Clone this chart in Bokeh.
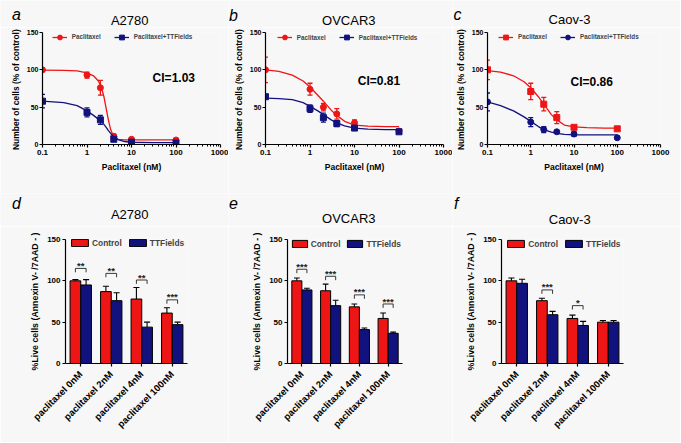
import math
from bokeh.plotting import figure
from bokeh.models import (Range1d, FactorRange, FixedTicker, CustomJSTickFormatter, Label,
                          Legend, LegendItem, ColumnDataSource, Whisker, TeeHead)
from bokeh.layouts import row, column
from bokeh.transform import dodge
from bokeh.core.properties import value
from bokeh.embed import file_html
from bokeh.resources import INLINE

FONT = "Liberation Sans"
RED = "#ee1515"
NAVY = "#12127e"
BG = "#f7f7f7"

# ---------------- dose-response data (top row) ----------------
doses = [0.1, 1, 2, 4, 10, 100]
x_ticks = [0.1, 1, 10, 100, 1000]
y_ticks = [0, 50, 100, 150]

a_ptx = [100, 93, 76, 11, 7, 6]
a_ptx_err = [1.5, 4, 10, 3, 2, 1.5]
a_tt = [58, 43, 33, 7, 3, 2]
a_tt_err = [9, 6, 6, 2, 1.5, 1]
a_fit_x = [0.1, 0.3, 0.6, 1, 1.4, 1.8, 2.1, 2.4, 2.7, 3, 3.4, 4, 5, 7, 10, 30, 100]
a_ptx_fit = [99.5, 99.3, 98.5, 96, 92, 85, 77, 64, 48, 34, 20, 10, 7, 6.3, 6.2, 6.2, 6.2]
a_tt_fit = [58, 56, 52, 45, 39, 34, 31, 27, 23, 19, 15, 10, 6.5, 4, 3, 2.5, 2.5]

b_ptx = [100, 74, 50, 41, 29, 18]
b_ptx_err = [17, 8, 5, 7, 4, 2]
b_tt = [64, 48, 36, 28, 22, 17]
b_tt_err = [3, 5, 6, 4, 2, 2]
b_fit_x = [0.1, 0.2, 0.4, 0.7, 1, 1.5, 2, 3, 4, 6, 10, 20, 50, 100]
b_ptx_fit = [100, 98, 93, 85, 77, 66, 58, 46, 39, 31, 26, 24.5, 24, 24]
b_tt_fit = [62, 61.5, 60, 56, 51, 45, 40, 33, 29, 25, 22, 20.5, 20, 20]

c_ptx = [100, 71, 54, 36, 23, 21]
c_ptx_err = [13, 11, 9, 8, 2, 2]
c_tt = [57, 30, 20, 17, 14, 9]
c_tt_err = [12, 6, 4, 2, 3, 1]
c_fit_x = [0.1, 0.2, 0.4, 0.7, 1, 1.5, 2, 3, 4, 6, 10, 20, 50, 100]
c_ptx_fit = [99, 97, 92, 84, 76, 64, 54, 40, 33, 26, 23.5, 22.5, 22, 22]
c_tt_fit = [57, 52, 45, 37, 31, 24, 20, 16.5, 15, 13.5, 13, 13, 13, 13]

# ---------------- live-cell bar data (bottom row) ----------------
conds = ["paclitaxel 0nM", "paclitaxel 2nM", "paclitaxel 4nM", "paclitaxel 100nM"]

d_ctrl = [100, 87, 78, 61]
d_ctrl_err = [1.5, 6.5, 14, 6.5]
d_tt = [95, 76, 44, 47]
d_tt_err = [6.5, 9.5, 6, 3]
d_sig = ["**", "**", "**", "***"]
d_sig_y = [115, 109, 101, 77]

e_ctrl = [100, 88, 68.5, 54.5]
e_ctrl_err = [3.5, 8, 3.5, 6.5]
e_tt = [89, 70, 41, 36.5]
e_tt_err = [2, 6.5, 2, 1.5]
e_sig = ["***", "***", "***", "***"]
e_sig_y = [114, 105.5, 83, 72]

f_ctrl = [100, 76, 54.5, 50]
f_ctrl_err = [3.5, 3, 4, 2]
f_tt = [97, 59, 46, 50]
f_tt_err = [5, 4, 5, 2]
f_sig = ["", "***", "*", ""]
f_sig_y = [None, 89, 70, None]


def new_fig(**kw):
    p = figure(output_backend="svg", toolbar_location=None, background_fill_color=BG,
               border_fill_color=BG, outline_line_color=None, title=None, **kw)
    p.grid.visible = False
    return p


def header(W, H, title, title_xy, letter, letter_xy):
    # text strip above a panel: panel letter and panel title (centre positions)
    h = new_fig(width=W, height=H, x_range=Range1d(0, W), y_range=Range1d(0, H),
                min_border=0, x_axis_location=None, y_axis_location=None)
    h.add_layout(Label(x=title_xy[0], y=H - title_xy[1], text=title, text_font=FONT,
                       text_font_size="13px", text_align="center", text_baseline="middle",
                       text_line_height=1.0, text_color="black"))
    h.add_layout(Label(x=letter_xy[0], y=H - letter_xy[1], text=letter, text_font=FONT,
                       text_font_size="16px", text_font_style="italic", text_align="left",
                       text_baseline="middle", text_line_height=1.0, text_color="black"))
    return h


def style_axis(ax, tick_size, label_size, label_standoff):
    ax.axis_line_width = 1.2
    ax.axis_line_color = "black"
    ax.major_tick_line_width = 1.2
    ax.major_tick_line_color = "black"
    ax.major_tick_in = 0
    ax.major_tick_out = 3
    ax.minor_tick_in = 0
    ax.minor_tick_out = 2
    ax.minor_tick_line_width = 1
    ax.minor_tick_line_color = "black"
    ax.major_label_text_font = FONT
    ax.major_label_text_font_style = "bold"
    ax.major_label_text_font_size = tick_size
    ax.major_label_text_color = "black"
    ax.axis_label_text_font = FONT
    ax.axis_label_text_font_style = "bold"
    ax.axis_label_text_font_size = label_size
    ax.axis_label_text_color = "black"
    ax.axis_label_standoff = label_standoff


def curve_plot(W, H, ax, ci, ptx, ptx_err, tt, tt_err, fit_x, ptx_fit, tt_fit,
               mk_ptx, mk_tt, ci_xy, leg_dxy):
    axl, axr, axt, axb = ax           # frame edges in plot pixels
    p = new_fig(width=W, height=H, x_axis_type="log",
                x_range=Range1d(0.1, 1000), y_range=Range1d(0, 150),
                min_border_left=axl, min_border_right=W - axr, min_border_top=axt,
                min_border_bottom=H - axb)
    xa = p.xaxis[0]
    ya = p.yaxis[0]
    minor = [m * 10.0 ** e for e in range(-1, 3) for m in range(2, 10)]
    xa.ticker = FixedTicker(ticks=x_ticks, minor_ticks=minor)
    xa.formatter = CustomJSTickFormatter(code="return String(tick);")
    ya.ticker = FixedTicker(ticks=y_ticks, minor_ticks=[])
    xa.axis_label = "Paclitaxel (nM)"
    ya.axis_label = "Number of cells  (% of control)"
    style_axis(xa, "8px", "8.5px", 4)
    style_axis(ya, "7px", "8.5px", 3)
    xa.major_label_standoff = 2
    ya.major_label_standoff = 1
    ya.major_label_text_line_height = 1.0

    items = []
    for vals, errs, col, mk, fitv, lab in [(ptx, ptx_err, RED, mk_ptx, ptx_fit, "Paclitaxel"),
                                          (tt, tt_err, NAVY, mk_tt, tt_fit, "Paclitaxel+TTFields")]:
        src = ColumnDataSource(dict(x=doses, y=vals,
                                    lo=[v - e for v, e in zip(vals, errs)],
                                    hi=[v + e for v, e in zip(vals, errs)]))
        lr = p.line(fit_x, fitv, line_color=col, line_width=1.3)
        sr = p.scatter("x", "y", source=src, marker=mk, size=6, fill_color=col, line_color=col)
        p.add_layout(Whisker(source=src, base="x", lower="lo", upper="hi", line_color=col,
                             line_width=1.3,
                             lower_head=TeeHead(size=5, line_color=col, line_width=1.3),
                             upper_head=TeeHead(size=5, line_color=col, line_width=1.3)))
        items.append(LegendItem(label=lab, renderers=[lr, sr]))

    dx, dy = leg_dxy
    gh = 12
    p.add_layout(Legend(items=items, orientation="horizontal",
                        location=(dx, (axb - axt) - (dy + gh / 2.0)),
                        glyph_width=15, glyph_height=gh, label_height=gh, label_standoff=5,
                        spacing=13, padding=0, margin=0,
                        label_text_font=FONT, label_text_font_style="bold",
                        label_text_font_size="6.3px",
                        background_fill_alpha=0, border_line_alpha=0))

    p.add_layout(Label(x=ci_xy[0] - axl, y=axb - ci_xy[1], x_units="screen", y_units="screen",
                       text=ci, text_font=FONT, text_font_size="12px", text_font_style="bold",
                       text_align="center", text_baseline="middle", text_color="black"))
    return p


def bar_plot(W, H, ax, ctrl, ctrl_err, tt, tt_err, sig, sig_y, leg_dx, leg_gw):
    axl, axr, axt, axb = ax
    ky = (axb - axt) / 150.0
    p = new_fig(width=W, height=H, x_range=FactorRange(*conds), y_range=Range1d(0, 150),
                min_border_left=axl, min_border_right=W - axr, min_border_top=axt,
                min_border_bottom=H - axb)
    xa = p.xaxis[0]
    ya = p.yaxis[0]
    ya.ticker = FixedTicker(ticks=y_ticks, minor_ticks=[])
    ya.axis_label = "%Live cells (Annexin V- /7AAD - )"
    style_axis(xa, "9.5px", "9px", 4)
    style_axis(ya, "8px", "8.8px", 4)
    xa.major_label_orientation = math.pi / 4
    xa.major_label_standoff = 6
    ya.major_label_standoff = 2

    off, bw, cap = 0.175, 0.35, 0.1
    src = ColumnDataSource(dict(cond=conds, ctrl=ctrl, tt=tt,
                                ctrl_hi=[v + e for v, e in zip(ctrl, ctrl_err)],
                                tt_hi=[v + e for v, e in zip(tt, tt_err)]))
    r1 = p.vbar(x=dodge("cond", -off, range=p.x_range), top="ctrl", width=bw, source=src,
                fill_color=RED, line_color="black", line_width=1)
    r2 = p.vbar(x=dodge("cond", off, range=p.x_range), top="tt", width=bw, source=src,
                fill_color=NAVY, line_color="black", line_width=1)
    for o, lo, hi in [(-off, "ctrl", "ctrl_hi"), (off, "tt", "tt_hi")]:
        p.segment(x0=dodge("cond", o, range=p.x_range), x1=dodge("cond", o, range=p.x_range),
                  y0=lo, y1=hi, source=src, line_color="black", line_width=1.1)
        p.segment(x0=dodge("cond", o - cap, range=p.x_range),
                  x1=dodge("cond", o + cap, range=p.x_range),
                  y0=hi, y1=hi, source=src, line_color="black", line_width=1.1)

    idx = [i for i, s in enumerate(sig) if s]
    if idx:
        tick = 4.0 / ky          # bracket end ticks, 4 px long
        lift = 3.0 / ky          # stars sit just above the bracket
        bsrc = ColumnDataSource(dict(cond=[conds[i] for i in idx],
                                     y=[sig_y[i] for i in idx],
                                     ylo=[sig_y[i] - tick for i in idx],
                                     ytxt=[sig_y[i] + lift for i in idx],
                                     s=[sig[i] for i in idx]))
        p.segment(x0=dodge("cond", -off, range=p.x_range), x1=dodge("cond", off, range=p.x_range),
                  y0="y", y1="y", source=bsrc, line_color="#222222", line_width=0.9)
        for o in (-off, off):
            p.segment(x0=dodge("cond", o, range=p.x_range), x1=dodge("cond", o, range=p.x_range),
                      y0="y", y1="ylo", source=bsrc, line_color="#222222", line_width=0.9)
        p.text(x="cond", y="ytxt", text="s", source=bsrc, text_font=value(FONT),
               text_font_size="9.5px", text_font_style="bold", text_align="center",
               text_baseline="middle", text_color="#222222")

    leg_h = 12.5
    p.add_layout(Legend(items=[LegendItem(label="Control", renderers=[r1]),
                               LegendItem(label="TTFields", renderers=[r2])],
                        orientation="horizontal",
                        location=(leg_dx, (axb - axt) - leg_h),
                        glyph_width=leg_gw, glyph_height=9, label_height=9, label_standoff=2,
                        spacing=5, padding=0, margin=0,
                        label_text_font=FONT, label_text_font_style="bold",
                        label_text_font_size="8.4px",
                        background_fill_alpha=0, border_line_alpha=0))
    return p


# row geometry (page pixels): top header 0-27, top plots 27-193, bottom header 193-226, bottom plots 226-442
TOP_HH, TOP_PH = 27, 166
BOT_HH, BOT_PH = 33, 216
WA, WB, WC = 228, 224, 228

ha = header(WA, TOP_HH, "A2780", (129.2, 20), "a", (11.5, 14))
hb = header(WB, TOP_HH, "OVCAR3", (120.3, 20), "b", (0.5, 15))
hc = header(WC, TOP_HH, "Caov-3", (117, 18.7), "c", (1, 13.6))

pa = curve_plot(WA, TOP_PH, (42, 220, 5, 121), "CI=1.03",
                a_ptx, a_ptx_err, a_tt, a_tt_err, a_fit_x, a_ptx_fit, a_tt_fit,
                "circle", "square", (173.3, 54.7), (9.7, 8.7))
pb = curve_plot(WB, TOP_PH, (37, 215, 3, 119), "CI=0.81",
                b_ptx, b_ptx_err, b_tt, b_tt_err, b_fit_x, b_ptx_fit, b_tt_fit,
                "circle", "square", (150.5, 55), (11.7, 9.3))
pc = curve_plot(WC, TOP_PH, (33, 208, 3, 117), "CI=0.86",
                c_ptx, c_ptx_err, c_tt, c_tt_err, c_fit_x, c_ptx_fit, c_tt_fit,
                "square", "circle", (137.2, 54.7), (11, 6.7))

hd = header(WA, BOT_HH, "A2780", (129.2, 21.2), "d", (11.5, 10.3))
he = header(WB, BOT_HH, "OVCAR3", (120.3, 24.5), "e", (0.5, 9))
hf = header(WC, BOT_HH, "Caov-3", (117.2, 26.2), "f", (1.5, 9.5))

pd = bar_plot(WA, BOT_PH, (65, 187, 13, 141), d_ctrl, d_ctrl_err, d_tt, d_tt_err,
              d_sig, d_sig_y, 4, 21)
pe = bar_plot(WB, BOT_PH, (59, 174, 10, 137), e_ctrl, e_ctrl_err, e_tt, e_tt_err,
              e_sig, e_sig_y, 2.7, 19)
pf = bar_plot(WC, BOT_PH, (49, 171, 10, 137), f_ctrl, f_ctrl_err, f_tt, f_tt_err,
              f_sig, f_sig_y, 4.3, 21)

layout = column(row(ha, hb, hc), row(pa, pb, pc), row(hd, he, hf), row(pd, pe, pf))

open("out.html", "w").write(file_html(layout, INLINE))
